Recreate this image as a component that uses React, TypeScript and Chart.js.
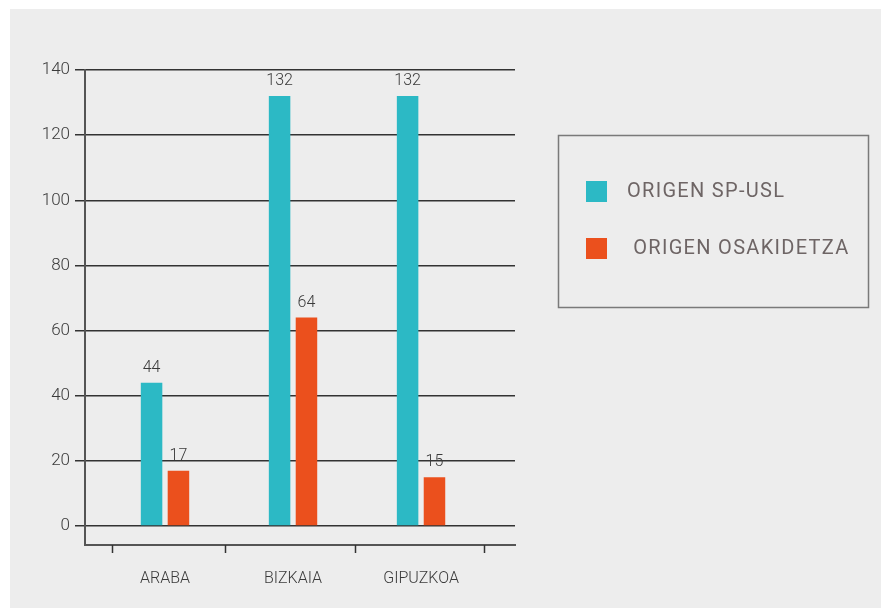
import React, { useEffect, useRef } from "react";
import { Chart, registerables } from "chart.js";

Chart.register(...registerables);

const categories = ["ARABA", "BIZKAIA", "GIPUZKOA"];
const seriesNames = ["ORIGEN SP-USL", " ORIGEN OSAKIDETZA"];
const spUsl = [44, 132, 132];
const osakidetza = [17, 64, 15];
const seriesColors = ["#2cb9c5", "#eb501d"];
const yTickValues = [0, 20, 40, 60, 80, 100, 120, 140];

const FONT = "Roboto, 'DejaVu Sans', sans-serif";

const barLabels = {
  id: "barLabels",
  afterDatasetsDraw(chart: any) {
    const ctx = chart.ctx;
    ctx.save();
    ctx.font = `300 16px ${FONT}`;
    ctx.fillStyle = "#3a3a3a";
    ctx.textAlign = "center";
    ctx.textBaseline = "bottom";
    chart.data.datasets.forEach((ds: any, di: number) => {
      const meta = chart.getDatasetMeta(di);
      meta.data.forEach((bar: any, i: number) => {
        ctx.fillText(String(ds.data[i].y), bar.x, bar.y - 7);
      });
    });
    ctx.restore();
  },
};

const xTickMarks = {
  id: "xTickMarks",
  afterDraw(chart: any) {
    const ctx = chart.ctx;
    const xs = chart.scales.x;
    const bottom = chart.chartArea.bottom;
    ctx.save();
    ctx.strokeStyle = "#333";
    ctx.lineWidth = 1.5;
    [0.586, 1.469, 2.484, 3.492].forEach((v) => {
      const px = Math.round(xs.getPixelForValue(v)) + 0.5;
      ctx.beginPath();
      ctx.moveTo(px, bottom);
      ctx.lineTo(px, bottom + 8);
      ctx.stroke();
    });
    ctx.restore();
  },
};

const boxLegend = {
  id: "boxLegend",
  afterDraw(chart: any) {
    const ctx = chart.ctx;
    const left = chart.chartArea.right + 43;
    const top = 126;
    ctx.save();
    ctx.strokeStyle = "#7a7a7a";
    ctx.lineWidth = 1.5;
    ctx.strokeRect(left + 0.5, top + 0.5, 310, 172);
    ctx.font = `20px ${FONT}`;
    ctx.textBaseline = "middle";
    ctx.textAlign = "left";
    (ctx as any).letterSpacing = "1.3px";
    chart.data.datasets.forEach((ds: any, i: number) => {
      const y = top + 46 + i * 57;
      ctx.fillStyle = ds.backgroundColor;
      ctx.fillRect(left + 28, y, 21, 21);
      ctx.fillStyle = "#6e6565";
      ctx.fillText(ds.label, left + 69, y + 11);
    });
    ctx.restore();
  },
};

export default function App() {
  const ref = useRef<HTMLCanvasElement>(null);

  useEffect(() => {
    if (!ref.current) return;
    const datasets = [spUsl, osakidetza].map((vals, si) => ({
      label: seriesNames[si],
      data: vals.map((v, i) => ({ x: i + 1, y: v })),
      backgroundColor: seriesColors[si],
      categoryPercentage: 0.42,
      barPercentage: 0.8,
    }));
    const chart = new Chart(ref.current, {
      type: "bar",
      data: { datasets },
      plugins: [barLabels, xTickMarks, boxLegend],
      options: {
        animation: false,
        responsive: false,
        maintainAspectRatio: false,
        layout: { padding: { top: 61, right: 366, left: 0, bottom: 0 } },
        plugins: { legend: { display: false }, tooltip: { enabled: false } },
        scales: {
          x: {
            type: "linear",
            offset: false,
            bounds: "data",
            min: 0.375,
            max: 3.734,
            afterBuildTicks: (s: any) => {
              s.ticks = categories.map((_, i) => ({ value: i + 1 }));
            },
            grid: { display: false, drawTicks: false, offset: false },
            border: { display: true, color: "#555", width: 2 },
            ticks: {
              padding: 24,
              color: "#3a3a3a",
              font: { family: FONT, size: 16, weight: "300" },
              callback: (v: any) => categories[Math.round(v) - 1] ?? "",
            },
            afterFit: (s: any) => {
              s.height = 63;
            },
          },
          y: {
            min: -5.83,
            max: 140,
            afterBuildTicks: (s: any) => {
              s.ticks = yTickValues.map((v) => ({ value: v }));
            },
            grid: {
              color: "#333",
              lineWidth: 1.5,
              tickLength: 10,
              drawTicks: true,
            },
            border: { display: true, color: "#555", width: 2 },
            ticks: {
              padding: 5,
              color: "#3a3a3a",
              font: { family: FONT, size: 17, weight: "300" },
            },
            afterFit: (s: any) => {
              s.width = 75;
            },
          },
        },
      } as any,
    });
    return () => chart.destroy();
  }, []);

  return (
    <div
      style={{
        position: "absolute",
        left: 10,
        top: 9,
        width: 871,
        height: 599,
        background: "#ededed",
      }}
    >
      <canvas ref={ref} width={871} height={599} style={{ width: 871, height: 599, display: "block" }} />
    </div>
  );
}
